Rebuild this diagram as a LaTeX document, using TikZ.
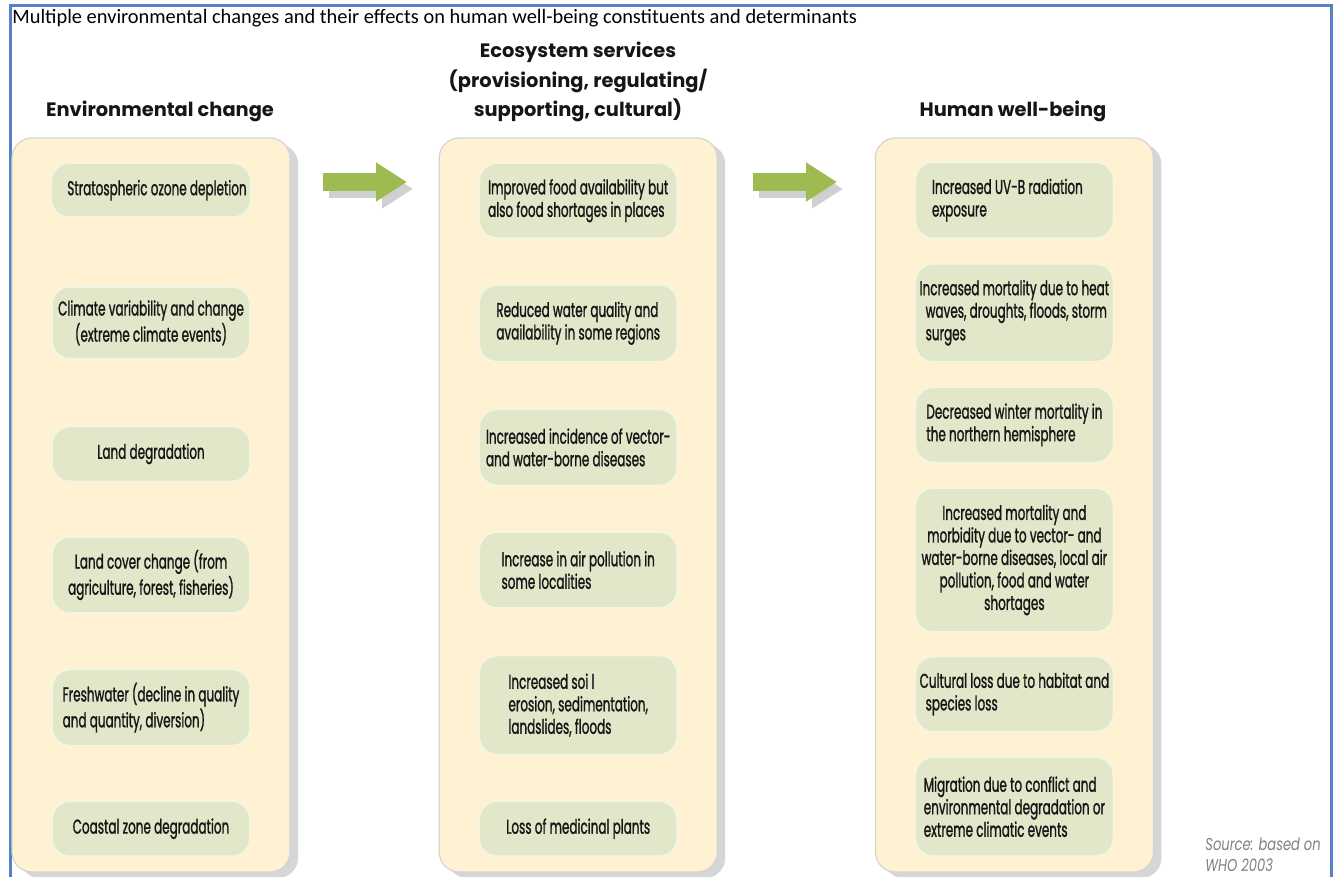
\documentclass[tikz,border=0pt]{standalone}
\usepackage{fontspec}
\setmainfont{Carlito}
\newfontfamily\headfont{Poppins}
\newfontfamily\boxfont{Poppins}[FakeStretch=0.6,FakeBold=1.1]
\newfontfamily\srcfont{Poppins}[FakeStretch=0.76]
\usepackage{tikz}
\usetikzlibrary{positioning}
\usetikzlibrary{calc}
\usetikzlibrary{arrows.meta}
\usetikzlibrary{shadows}

\definecolor{FrameBlue}{RGB}{84,130,196}
\definecolor{PanelFill}{RGB}{254,242,210}
\definecolor{PanelLine}{RGB}{212,212,212}
\definecolor{PanelShadow}{RGB}{214,214,214}
\definecolor{BoxFill}{RGB}{226,231,201}
\definecolor{BoxLine}{RGB}{243,245,229}
\definecolor{ArrowGreen}{RGB}{157,187,80}
\definecolor{ArrowShadow}{RGB}{208,208,208}
\definecolor{TextDark}{RGB}{22,22,22}
\definecolor{SrcGray}{RGB}{128,128,128}

\tikzset{
	panel/.style={
		draw=PanelLine,
		line width=0.6pt,
		fill=PanelFill,
		rounded corners=10pt,
		minimum width=139pt,
		minimum height=367pt,
		drop shadow={shadow xshift=4pt, shadow yshift=-3pt, fill=PanelShadow, opacity=1}
	},
	effect/.style={
		draw=BoxLine,
		line width=0.8pt,
		fill=BoxFill,
		rounded corners=9pt,
		minimum width=99pt,
		inner sep=2pt,
		text=TextDark,
		font=\boxfont\fontsize{10}{11.25}\selectfont
	},
	heading/.style={
		align=center,
		text=TextDark,
		font=\headfont\bfseries\fontsize{9.7}{14.75}\selectfont
	},
	bigarrow/.style={
		draw=ArrowGreen,
		line width=9pt,
		-{Triangle[length=15.5pt, width=18.5pt]}
	},
	bigarrowshadow/.style={
		bigarrow,
		draw=ArrowShadow
	}
}

\begin{document}
\begin{tikzpicture}[x=0.5pt, y=-0.5pt]

\useasboundingbox (0,0) rectangle (1338,877);

% frame and title
\draw[FrameBlue, line width=1.5pt] (10.5,877) -- (10.5,5.5) -- (1331,5.5) -- (1331,877);

\node[
	anchor=west,
	inner sep=0pt,
	font=\fontsize{10.2}{12}\selectfont
] (title) at (12,18) {Multiple environmental changes and their effects on human well-being constituents and determinants};

% ---

\node[panel] (envPanel) at (151,505) {};
\node[panel, right=74pt of envPanel] (ecoPanel) {};
\node[panel, right=78.5pt of ecoPanel] (humPanel) {};

\node[heading] (envHead) at (160,111) {Environmental change};
\node[heading] (ecoHead) at (578,82) {Ecosystem services\\(provisioning, regulating/\\supporting, cultural)};
\node[heading] (humHead) at (1013,111) {Human well-being};

% --- environmental change

\node[
	effect,
	minimum height=27pt,
	below=12.5pt of envPanel.north
] (envOzone) {\hspace*{6pt}Stratospheric ozone depletion};

\node[
	effect,
	align=center,
	minimum height=36pt,
	below=34pt of envOzone
] (envClimate) {Climate variability and change\\(extreme climate events)};

\node[
	effect,
	minimum height=27.5pt,
	below=33pt of envClimate
] (envLand) {Land degradation};

\node[
	effect,
	align=center,
	minimum height=38pt,
	below=27pt of envLand
] (envCover) {Land cover change (from\\agriculture, forest, fisheries)};

\node[
	effect,
	align=left,
	minimum height=38pt,
	below=27.5pt of envCover
] (envWater) {Freshwater (decline in quality\\and quantity, diversion)};

\node[
	effect,
	minimum height=27.5pt,
	below=27pt of envWater
] (envCoast) {Coastal zone degradation};

% --- ecosystem services

\node[
	effect,
	align=left,
	minimum height=37.5pt,
	below=12.5pt of ecoPanel.north
] (ecoFood) {Improved food availability but\\also food shortages in places};

\node[
	effect,
	align=left,
	minimum height=38.5pt,
	below=22.5pt of ecoFood
] (ecoWater) {Reduced water quality and\\availability in some regions};

\node[
	effect,
	align=left,
	minimum height=38pt,
	below=23pt of ecoWater
] (ecoVector) {Increased incidence of vector-\\and water-borne diseases};

\node[
	effect,
	align=left,
	minimum height=38pt,
	below=22.5pt of ecoVector
] (ecoAir) {Increase in air pollution in\\some localities};

\node[
	effect,
	align=left,
	minimum height=49.5pt,
	below=23pt of ecoAir
] (ecoSoil) {Increased soi l\\erosion, sedimentation,\\landslides, floods};

\node[
	effect,
	minimum height=27.5pt,
	below=22.5pt of ecoSoil
] (ecoPlants) {Loss of medicinal plants};

% --- human well-being

\node[
	effect,
	align=left,
	minimum height=38pt,
	below=12pt of humPanel.north
] (humUV) {Increased UV-B radiation\hspace*{7pt}\\exposure};

\node[
	effect,
	align=left,
	minimum height=49pt,
	below=12pt of humUV
] (humHeat) {Increased mortality due to heat\\\hspace*{3pt}waves, droughts, floods, storm\\\hspace*{3pt}surges};

\node[
	effect,
	align=left,
	minimum height=37.5pt,
	below=12pt of humHeat
] (humWinter) {Decreased winter mortality in\\the northern hemisphere};

\node[
	effect,
	align=center,
	minimum height=72pt,
	below=12pt of humWinter
] (humDisease) {Increased mortality and\\morbidity due to vector- and\\water-borne diseases, local air\\pollution, food and water\\shortages};

\node[
	effect,
	align=left,
	minimum height=37.5pt,
	below=11.5pt of humDisease
] (humCulture) {Cultural loss due to habitat and\\\hspace*{3pt}species loss};

\node[
	effect,
	align=left,
	minimum height=49.5pt,
	below=12pt of humCulture
] (humMigration) {Migration due to conflict and\\environmental degradation or\\extreme climatic events};

% --- arrows between the columns

\coordinate (arrowAStart) at (323,182);
\coordinate (arrowAEnd) at (407,182);
\coordinate (arrowBStart) at (753,182);
\coordinate (arrowBEnd) at (837,182);

\draw[bigarrowshadow] ([xshift=3pt, yshift=-3.5pt]arrowAStart) -- ([xshift=3pt, yshift=-3.5pt]arrowAEnd);
\draw[bigarrow] (arrowAStart) -- (arrowAEnd);

\draw[bigarrowshadow] ([xshift=3pt, yshift=-3.5pt]arrowBStart) -- ([xshift=3pt, yshift=-3.5pt]arrowBEnd);
\draw[bigarrow] (arrowBStart) -- (arrowBEnd);

% --- source

\node[
	anchor=north west,
	align=left,
	inner sep=0pt,
	text=SrcGray,
	font=\srcfont\itshape\fontsize{8.6}{10.5}\selectfont
] (source) at (1205,837) {Source: based on\\WHO 2003};

\end{tikzpicture}
\end{document}
